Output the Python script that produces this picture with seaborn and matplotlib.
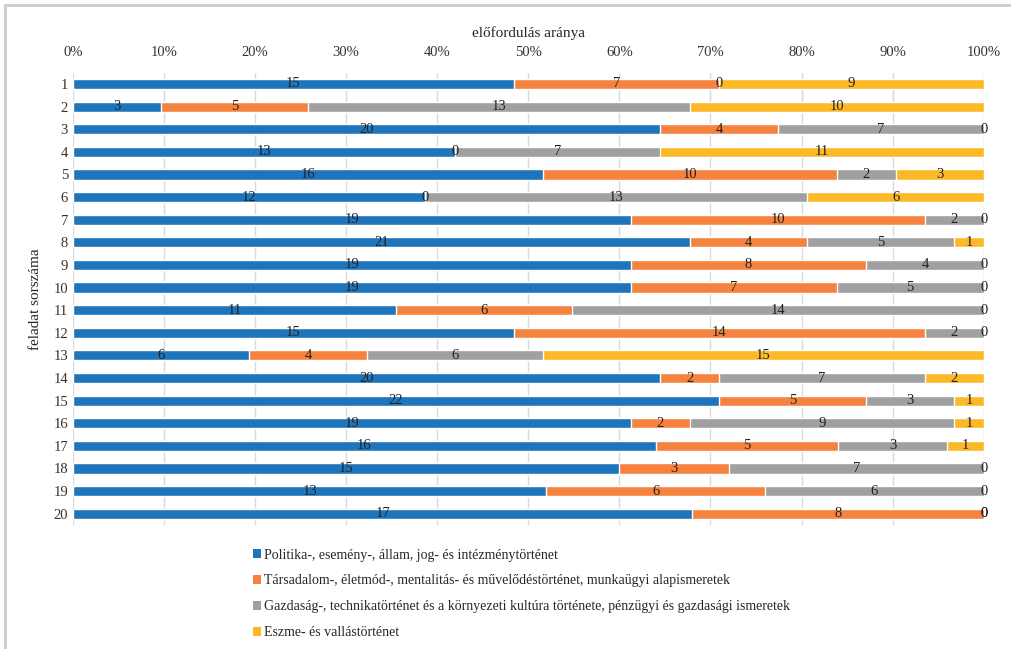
import numpy as np
import pandas as pd
import seaborn as sns
import matplotlib.pyplot as plt
from matplotlib.patches import Patch, Rectangle

sns.set_style("white")
plt.rcParams["font.family"] = ["Liberation Serif", "DejaVu Serif"]

tasks = [str(i) for i in range(1, 21)]
politika = [15, 3, 20, 13, 16, 12, 19, 21, 19, 19, 11, 15, 6, 20, 22, 19, 16, 15, 13, 17]
tarsadalom = [7, 5, 4, 0, 10, 0, 10, 4, 8, 7, 6, 14, 4, 2, 5, 2, 5, 3, 6, 8]
gazdasag = [0, 13, 7, 7, 2, 13, 2, 5, 4, 5, 14, 2, 6, 7, 3, 9, 3, 7, 6, 0]
eszme = [9, 10, 0, 11, 3, 6, 0, 1, 0, 0, 0, 0, 15, 2, 1, 1, 1, 0, 0, 0]

names = [
    "Politika-, esemény-, állam, jog- és intézménytörténet",
    "Társadalom-, életmód-, mentalitás- és művelődéstörténet, munkaügyi alapismeretek",
    "Gazdaság-, technikatörténet és a környezeti kultúra története, pénzügyi és gazdasági ismeretek",
    "Eszme- és vallástörténet",
]
colors = ["#1f75bc", "#f5833f", "#a0a0a0", "#fdb827"]

counts = np.array([politika, tarsadalom, gazdasag, eszme], dtype=float)
share = counts / counts.sum(axis=0) * 100
cum = share.cumsum(axis=0)

fig = plt.figure(figsize=(10.12, 6.49), dpi=100)
ax = fig.add_axes([0.072, 0.191, 0.9, 0.697])

# draw from the longest cumulative layer down so the segments stack
for k in range(3, -1, -1):
    df = pd.DataFrame({"task": tasks, "val": cum[k]})
    sns.barplot(data=df, x="val", y="task", orient="h", color=colors[k],
                width=0.45, saturation=1, ax=ax, zorder=2)

for k in range(4):
    for i in range(20):
        start = cum[k][i] - share[k][i]
        ax.text(start + share[k][i] / 2, i, str(int(counts[k][i])),
                ha="center", va="center", fontsize=10.5, color="#222222", zorder=3)

ax.set_xlim(0, 100)
ax.set_xticks(range(0, 101, 10))
ax.set_xticklabels([f"{t}%" for t in range(0, 101, 10)])
ax.xaxis.tick_top()
ax.xaxis.set_label_position("top")
ax.tick_params(axis="both", length=0, labelsize=10.5, colors="#333333")
ax.tick_params(axis="x", pad=10)
ax.set_xlabel("előfordulás aránya", fontsize=11, labelpad=6)
ax.set_ylabel("feladat sorszáma", fontsize=11, labelpad=8)
ax.grid(axis="x", color="#d9d9d9", linewidth=1, zorder=0)
ax.set_axisbelow(True)
for s in ax.spines.values():
    s.set_visible(False)

handles = [Patch(facecolor=c, edgecolor="none") for c in colors]
fig.legend(handles, names, loc="upper left", bbox_to_anchor=(0.238, 0.174),
           frameon=False, fontsize=10, handlelength=0.55, handleheight=0.55,
           handletextpad=0.25, labelspacing=0.93)

fig.patches.append(Rectangle((5 / 1012, -0.1), 1.2, 1 - 5 / 649 + 0.1,
                             transform=fig.transFigure, fill=False,
                             edgecolor="#cccccc", linewidth=2))

fig.savefig("out.png", dpi=100)
